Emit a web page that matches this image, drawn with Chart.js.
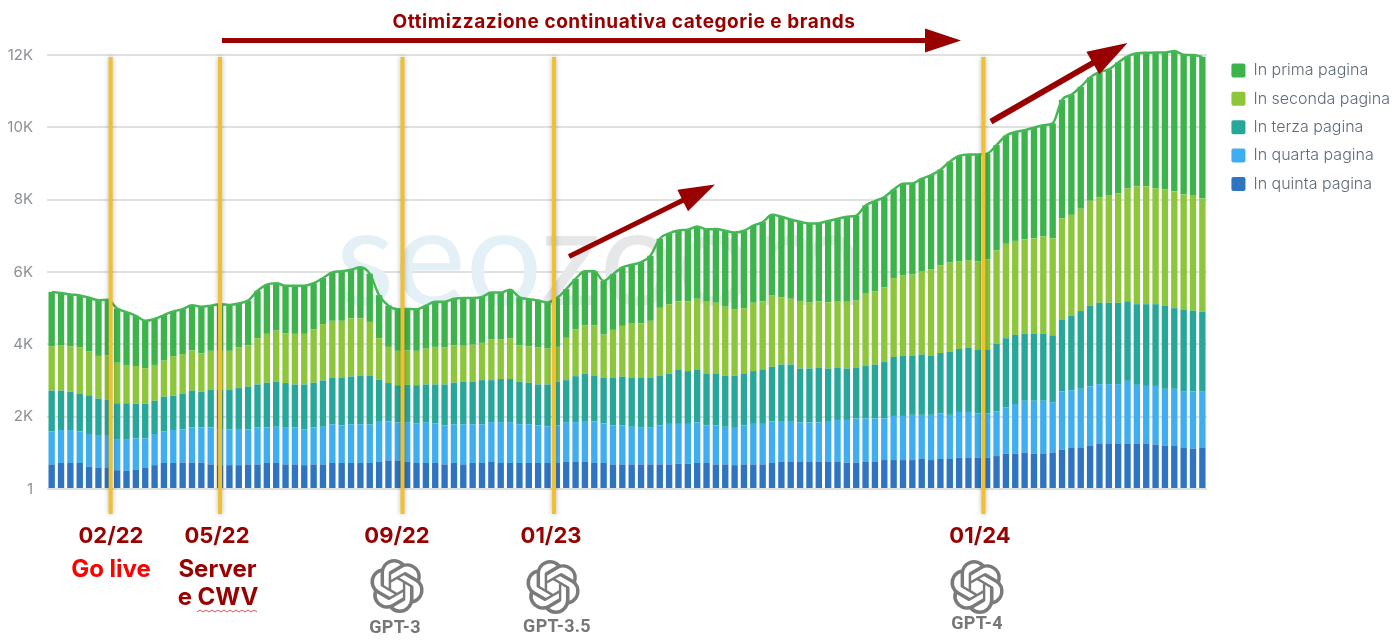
<!DOCTYPE html>
<html>
<head>
<meta charset="utf-8">
<title>Keyword posizionate</title>
<script src="https://cdn.jsdelivr.net/npm/chart.js@4/dist/chart.umd.js"></script>
<style>
  html, body { margin: 0; padding: 0; background: #fff; }
  #wrap { width: 1399px; height: 644px; }
</style>
</head>
<body>
<div id="wrap"><canvas id="keywordChart" width="1399" height="644"></canvas></div>
<script>
// weekly buckets, the reference has no x labels
var weeks = [];
for (var w = 1; w <= 124; w++) weeks.push("W" + w);

var yTickLabels = ["1", "2K", "4K", "6K", "8K", "10K", "12K"];

var inQuintaPagina = [
  680,720,720,720,620,580,580,520,500,540,
  580,660,720,720,730,730,730,680,660,660,
  660,680,680,720,720,680,680,660,680,680,
  720,720,720,720,720,760,790,790,760,720,
  720,720,680,720,680,720,720,760,720,720,
  720,720,720,720,720,760,760,760,720,720,
  680,680,680,680,680,680,680,700,700,720,
  720,680,680,660,680,680,680,720,760,760,
  760,760,760,760,760,730,730,760,760,800,
  800,800,800,830,800,830,830,870,870,870,
  870,910,980,980,1010,970,970,1010,1080,1150,
  1150,1190,1260,1260,1260,1260,1260,1260,1230,1190,
  1190,1150,1120,1150
];
var inQuartaPagina = [
  910,910,910,870,900,890,890,860,880,860,
  820,860,870,910,920,970,970,1020,990,990,
  1000,970,1020,980,1000,1030,1020,990,1020,1040,
  1070,1040,1070,1070,1070,1120,1080,1050,1090,1090,
  1130,1090,1080,1070,1110,1070,1070,1090,1130,1130,
  1070,1070,1040,1010,1040,1090,1090,1120,1150,1090,
  1080,1080,1040,1030,1030,1080,1120,1100,1100,1120,
  1040,1080,1040,1030,1080,1120,1120,1150,1120,1120,
  1080,1080,1080,1120,1150,1180,1220,1190,1190,1150,
  1220,1220,1250,1220,1250,1260,1220,1260,1260,1220,
  1220,1240,1280,1370,1430,1470,1470,1390,1620,1580,
  1620,1650,1640,1640,1640,1730,1620,1590,1620,1580,
  1580,1540,1580,1540
];
var inTerzaPagina = [
  1130,1090,1060,1050,1070,1030,1000,990,990,960,
  960,920,960,950,990,1020,990,1040,1100,1100,
  1130,1180,1190,1240,1250,1220,1190,1240,1240,1280,
  1280,1310,1320,1350,1350,1140,1060,1030,1030,1060,
  1040,1080,1130,1150,1170,1170,1220,1160,1190,1190,
  1170,1150,1130,1160,1200,1160,1270,1310,1270,1270,
  1310,1350,1350,1360,1360,1380,1390,1490,1460,1450,
  1420,1420,1410,1440,1420,1460,1490,1510,1560,1560,
  1490,1490,1520,1450,1450,1420,1410,1450,1490,1560,
  1630,1660,1630,1670,1630,1670,1740,1740,1770,1770,
  1770,1860,1910,1910,1850,1850,1850,1850,1990,2060,
  2150,2230,2250,2250,2250,2200,2230,2260,2260,2300,
  2230,2260,2230,2210
];
var inSecondaPagina = [
  1220,1260,1250,1270,1210,1180,1220,1120,1040,1040,
  980,990,1000,1080,1090,1110,1060,1080,1070,1070,
  1120,1140,1280,1350,1410,1370,1400,1400,1470,1560,
  1580,1580,1610,1580,1480,1150,1000,950,950,950,
  990,1040,1020,1030,1000,1030,1030,1120,1090,1130,
  1010,1000,1020,990,970,1170,1290,1330,1380,1190,
  1330,1400,1500,1510,1580,1870,1920,1900,1930,1970,
  2000,1970,1910,1830,1820,1890,1900,1980,1860,1820,
  1870,1830,1830,1830,1820,1850,1850,2000,2020,2070,
  2180,2220,2250,2290,2390,2420,2470,2430,2430,2430,
  2490,2590,2610,2600,2610,2640,2690,2680,2790,2790,
  2830,2900,2910,2960,3020,3120,3260,3260,3200,3210,
  3230,3190,3200,3130
];
var inPrimaPagina = [
  1510,1440,1440,1440,1490,1540,1540,1500,1480,1390,
  1310,1270,1260,1250,1240,1250,1290,1250,1290,1270,
  1220,1240,1310,1360,1310,1320,1330,1330,1280,1270,
  1340,1370,1340,1410,1330,1190,1140,1150,1150,1150,
  1190,1250,1270,1290,1320,1290,1270,1300,1300,1340,
  1330,1310,1300,1280,1350,1350,1400,1500,1500,1480,
  1540,1620,1630,1690,1800,1910,1960,1960,1980,2000,
  2000,2040,2100,2130,2140,2130,2190,2220,2230,2190,
  2190,2180,2160,2250,2290,2350,2350,2440,2500,2490,
  2450,2540,2520,2570,2610,2650,2790,2910,2920,2960,
  2920,2910,2990,3010,3020,3060,3080,3180,3280,3320,
  3370,3410,3470,3490,3620,3650,3680,3690,3760,3790,
  3880,3870,3870,3920
];

var totalKeywords = inPrimaPagina.map(function (v, i) {
  return v + inSecondaPagina[i] + inTerzaPagina[i] + inQuartaPagina[i] + inQuintaPagina[i];
});

var DARK_RED = "#990000";
var LABEL_FONT = "Inter, sans-serif";

// release markers, position given as week index
var markers = [6.3, 18, 37.5, 53.7, 99.6];

// arrows in week index / value, so they follow the scales
var arrows = [
  { from: [18.2, 12400], to: [97.2, 12400], head: 36, half: 12, width: 5 },
  { from: [55.3, 6430], to: [70.9, 8420], head: 36, half: 12, width: 5 },
  { from: [100.4, 10160], to: [115, 12330], head: 40, half: 13, width: 6 },
];

var overlayTexts = [
  { text: "Ottimizzazione continuativa categorie e brands", x: 624, y: 22.5, size: 19, color: DARK_RED, spacing: "0.55px" },
  { text: "02/22", x: 111, y: 536, size: 22, color: DARK_RED },
  { text: "05/22", x: 217, y: 536, size: 22, color: DARK_RED },
  { text: "09/22", x: 397, y: 536, size: 22, color: DARK_RED },
  { text: "01/23", x: 551, y: 536, size: 22, color: DARK_RED },
  { text: "01/24", x: 980, y: 536, size: 22, color: DARK_RED },
  { text: "Go live", x: 111, y: 570, size: 24, color: "#ff0000" },
  { text: "Server", x: 217.5, y: 570, size: 24, color: DARK_RED },
  { text: "e CWV", x: 218, y: 598, size: 24, color: DARK_RED },
  { text: "GPT-3", x: 395, y: 628, size: 18, color: "#777777", font: "Roboto, sans-serif", spacing: "0.3px" },
  { text: "GPT-3.5", x: 557, y: 627, size: 18, color: "#777777", font: "Roboto, sans-serif", spacing: "0.3px" },
  { text: "GPT-4", x: 977, y: 624, size: 18, color: "#777777", font: "Roboto, sans-serif", spacing: "0.3px" },
];

var logoPath = new Path2D("M22.2819 9.8211a5.9847 5.9847 0 0 0-.5157-4.9108 6.0462 6.0462 0 0 0-6.5098-2.9A6.0651 6.0651 0 0 0 4.9807 4.1818a5.9847 5.9847 0 0 0-3.9977 2.9 6.0462 6.0462 0 0 0 .7427 7.0966 5.98 5.98 0 0 0 .511 4.9107 6.051 6.051 0 0 0 6.5146 2.9001A5.9847 5.9847 0 0 0 13.2599 24a6.0557 6.0557 0 0 0 5.7718-4.2058 5.9894 5.9894 0 0 0 3.9977-2.9001 6.0557 6.0557 0 0 0-.7475-7.0729zm-9.022 12.6081a4.4755 4.4755 0 0 1-2.8764-1.0408l.1419-.0804 4.7783-2.7582a.7948.7948 0 0 0 .3927-.6813v-6.7369l2.02 1.1686a.071.071 0 0 1 .038.052v5.5826a4.504 4.504 0 0 1-4.4945 4.4944zm-9.6607-4.1254a4.4708 4.4708 0 0 1-.5346-3.0137l.142.0852 4.783 2.7582a.7712.7712 0 0 0 .7806 0l5.8428-3.3685v2.3324a.0804.0804 0 0 1-.0332.0615L9.74 19.9502a4.4992 4.4992 0 0 1-6.1408-1.6464zM2.3408 7.8956a4.485 4.485 0 0 1 2.3655-1.9728V11.6a.7664.7664 0 0 0 .3879.6765l5.8144 3.3543-2.0201 1.1685a.0757.0757 0 0 1-.071 0l-4.8303-2.7865A4.504 4.504 0 0 1 2.3408 7.872zm16.5963 3.8558L13.1038 8.364 15.1192 7.2a.0757.0757 0 0 1 .071 0l4.8303 2.7913a4.4944 4.4944 0 0 1-.6765 8.1042v-5.6772a.79.79 0 0 0-.407-.667zm2.0107-3.0231l-.142-.0852-4.7735-2.7818a.7759.7759 0 0 0-.7854 0L9.409 9.2297V6.8974a.0662.0662 0 0 1 .0284-.0615l4.8303-2.7866a4.4992 4.4992 0 0 1 6.6802 4.66zM8.3065 12.863l-2.02-1.1638a.0804.0804 0 0 1-.038-.0567V6.0742a4.4992 4.4992 0 0 1 7.3757-3.4537l-.142.0805L8.704 5.459a.7948.7948 0 0 0-.3927.6813zm1.0976-2.3654l2.602-1.4998 2.6069 1.4998v2.9994l-2.5974 1.4997-2.6067-1.4997Z");
var logos = [
  { x: 370, y: 559, size: 54 },
  { x: 526, y: 560, size: 54 },
  { x: 950, y: 560, size: 54 },
];

var watermarkPlugin = {
  id: "watermark",
  beforeDatasetsDraw: function (chart) {
    var ctx = chart.ctx;
    ctx.save();
    ctx.font = "400 135px Lato, sans-serif";
    ctx.textBaseline = "alphabetic";
    ctx.textAlign = "left";
    ctx.fillStyle = "#e3f0f5";
    ctx.fillText("seo", 336, 305);
    ctx.fillStyle = "#e6e7e9";
    ctx.fillText("zoom", 540, 305);
    ctx.restore();
  },
};

// the legend sits a bit higher than the plot top
var legendShiftPlugin = {
  id: "legendShift",
  afterLayout: function (chart) {
    chart.legend.top -= 5;
    chart.legend.left += 1;
  },
};

function drawArrow(ctx, x1, y1, x2, y2, a) {
  var ang = Math.atan2(y2 - y1, x2 - x1);
  ctx.save();
  ctx.translate(x1, y1);
  ctx.rotate(ang);
  var len = Math.hypot(x2 - x1, y2 - y1);
  ctx.fillStyle = DARK_RED;
  ctx.fillRect(0, -a.width / 2, len - a.head + 2, a.width);
  ctx.beginPath();
  ctx.moveTo(len, 0);
  ctx.lineTo(len - a.head, -a.half);
  ctx.lineTo(len - a.head, a.half);
  ctx.closePath();
  ctx.fill();
  ctx.restore();
}

var overlayPlugin = {
  id: "overlay",
  afterDraw: function (chart) {
    var ctx = chart.ctx;
    var xs = chart.scales.x;
    var ys = chart.scales.y;

    markers.forEach(function (m) {
      var x = xs.getPixelForValue(m);
      ctx.save();
      ctx.shadowColor = "rgba(0,0,0,0.3)";
      ctx.shadowBlur = 5;
      ctx.strokeStyle = "#f0c030";
      ctx.lineWidth = 4;
      ctx.beginPath();
      ctx.moveTo(x, 57);
      ctx.lineTo(x, 514);
      ctx.stroke();
      ctx.restore();
    });

    arrows.forEach(function (a) {
      drawArrow(ctx, xs.getPixelForValue(a.from[0]), ys.getPixelForValue(a.from[1]),
        xs.getPixelForValue(a.to[0]), ys.getPixelForValue(a.to[1]), a);
    });

    ctx.save();
    ctx.textAlign = "center";
    ctx.textBaseline = "middle";
    overlayTexts.forEach(function (t) {
      ctx.font = "700 " + t.size + "px " + (t.font || LABEL_FONT);
      ctx.letterSpacing = t.spacing || "0px";
      ctx.fillStyle = t.color;
      ctx.fillText(t.text, t.x, t.y);
    });
    ctx.restore();

    // spellcheck squiggle under CWV
    ctx.save();
    ctx.strokeStyle = "#e05050";
    ctx.lineWidth = 1;
    ctx.beginPath();
    for (var sx = 197; sx <= 257; sx += 3) {
      var sy = (sx - 197) % 6 === 0 ? 612 : 610;
      if (sx === 197) ctx.moveTo(sx, sy);
      else ctx.lineTo(sx, sy);
    }
    ctx.stroke();
    ctx.restore();

    logos.forEach(function (l) {
      ctx.save();
      ctx.translate(l.x, l.y);
      ctx.scale(l.size / 24, l.size / 24);
      ctx.fillStyle = "#7a7a7a";
      ctx.fill(logoPath);
      ctx.restore();
    });
  },
};

function barSet(label, values, color) {
  return {
    type: "bar",
    label: label,
    data: values,
    backgroundColor: color,
    stack: "pagine",
    order: 1,
    clip: false,
    categoryPercentage: 1,
    barPercentage: 0.68,
  };
}

new Chart(document.getElementById("keywordChart").getContext("2d"), {
  data: {
    labels: weeks,
    datasets: [
      barSet("In quinta pagina", inQuintaPagina, "#2e74c0"),
      barSet("In quarta pagina", inQuartaPagina, "#3faef0"),
      barSet("In terza pagina", inTerzaPagina, "#27a69a"),
      barSet("In seconda pagina", inSecondaPagina, "#8dc63a"),
      barSet("In prima pagina", inPrimaPagina, "#3cb44b"),
      {
        type: "line",
        label: "Totale",
        data: totalKeywords,
        borderColor: "#45b855",
        borderWidth: 2.5,
        pointRadius: 0,
        tension: 0.4,
        cubicInterpolationMode: "monotone",
        fill: false,
        order: 0,
        clip: false,
      },
    ],
  },
  options: {
    responsive: false,
    animation: false,
    layout: { padding: { left: 8, top: 55, bottom: 155, right: 0 } },
    plugins: {
      tooltip: { enabled: false },
      legend: {
        position: "right",
        align: "start",
        reverse: true,
        labels: {
          filter: function (item) {
            return item.text !== "Totale";
          },
          boxWidth: 14,
          boxHeight: 14,
          useBorderRadius: true,
          borderRadius: 2,
          padding: 12.4,
          color: "#5f6b76",
          font: { family: "Inter, sans-serif", size: 16, weight: "300" },
        },
      },
    },
    scales: {
      x: {
        display: false,
        stacked: true,
      },
      y: {
        stacked: true,
        min: 0,
        max: 12000,
        border: { display: false },
        afterFit: function (scale) {
          scale.width = 39;
        },
        grid: { color: "#e0e0e0", lineWidth: 2, drawTicks: false },
        ticks: {
          stepSize: 2000,
          padding: 14,
          color: "#8c8f94",
          font: { family: "Inter, sans-serif", size: 15 },
          callback: function (value) {
            return yTickLabels[value / 2000];
          },
        },
      },
      // empty scale, keeps the gap between plot and legend
      rightGap: {
        display: true,
        position: "right",
        border: { display: false },
        grid: { display: false },
        ticks: { display: false },
        afterFit: function (scale) {
          scale.width = 11;
        },
      },
    },
  },
  plugins: [watermarkPlugin, legendShiftPlugin, overlayPlugin],
});
</script>
</body>
</html>
